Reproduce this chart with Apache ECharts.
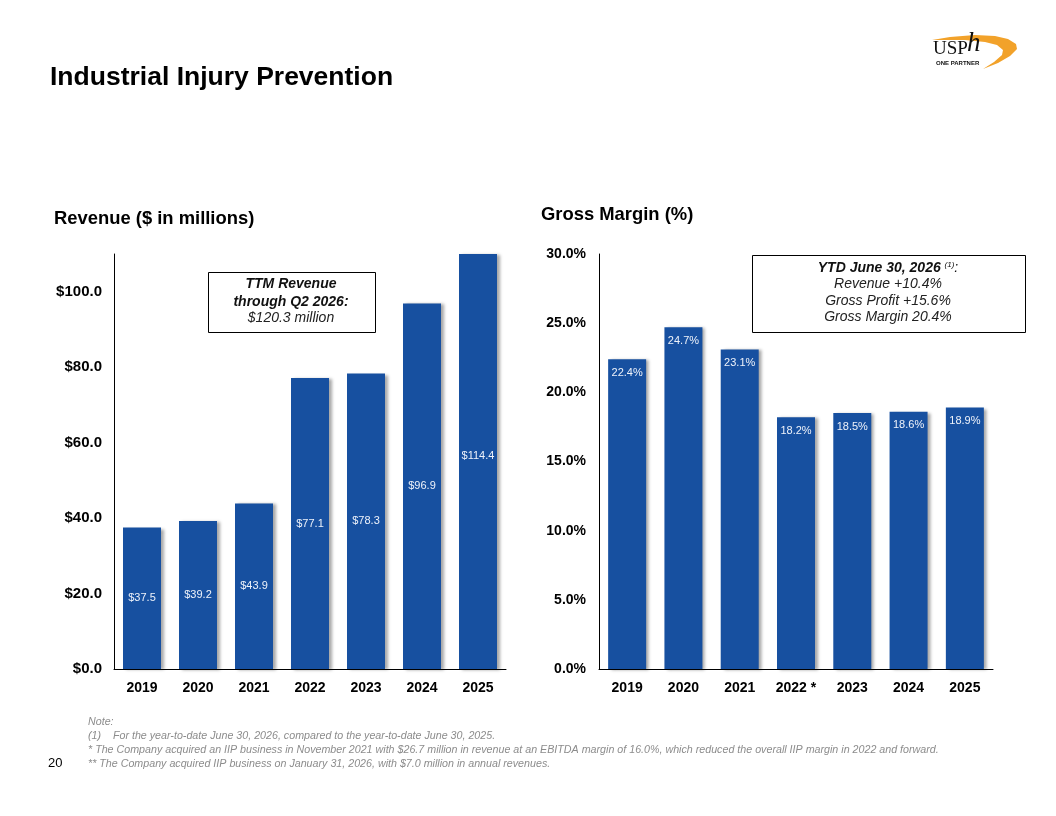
<!DOCTYPE html>
<html>
<head>
<meta charset="utf-8">
<script src="https://cdn.jsdelivr.net/npm/echarts@6/dist/echarts.min.js"></script>
<style>
  html, body { margin: 0; padding: 0; background: #fff; }
  #main { width: 1056px; height: 816px; }
</style>
</head>
<body>
<div id="main"></div>
<script>
var years = ['2019', '2020', '2021', '2022', '2023', '2024', '2025'];
var marginYears = ['2019', '2020', '2021', '2022 *', '2023', '2024', '2025'];
var revenue = [37.5, 39.2, 43.9, 77.1, 78.3, 96.9, 114.4];
var grossMargin = [22.4, 24.7, 23.1, 18.2, 18.5, 18.6, 18.9];
var notes = [
    'Note:',
    '(1)    For the year-to-date June 30, 2026, compared to the year-to-date June 30, 2025.',
    '* The Company acquired an IIP business in November 2021 with $26.7 million in revenue at an EBITDA margin of 16.0%, which reduced the overall IIP margin in 2022 and forward.',
    '** The Company acquired IIP business on January 31, 2026, with $7.0 million in annual revenues.'
];

var barBlue = '#1750a0';
var font = 'Arial, "Liberation Sans", sans-serif';
var serif = '"Liberation Serif", "DejaVu Serif", serif';

var chart = echarts.init(document.getElementById('main'));

var barStyle = {
    color: barBlue,
    shadowColor: 'rgba(0,0,0,0.35)',
    shadowBlur: 3,
    shadowOffsetX: 3,
    shadowOffsetY: 1
};

// the last revenue bar runs past the axis max, keep its label near the full bar centre
var revenueData = revenue.map(function (v, i) {
    if (i === revenue.length - 1) {
        return { value: v, label: { offset: [0, -6] } };
    }
    return v;
});

var axisLabelStyle = { color: '#000', fontWeight: 'bold', fontSize: 14, fontFamily: font };

function txt(x, y, text, f, fill, align) {
    return { type: 'text', x: x, y: y,
             style: { text: text, font: f, fill: fill || '#000', align: align || 'left', verticalAlign: 'top' } };
}

var option = {
    animation: false,
    textStyle: { fontFamily: font },
    grid: [
        { left: 114, top: 254, width: 392, height: 415 },
        { left: 599, top: 254, width: 394, height: 415 }
    ],
    xAxis: [{
        type: 'category', gridIndex: 0, data: years,
        axisLine: { lineStyle: { color: '#000', width: 1 } },
        axisTick: { show: false },
        axisLabel: Object.assign({ margin: 12 }, axisLabelStyle)
    }, {
        type: 'category', gridIndex: 1, data: marginYears,
        axisLine: { lineStyle: { color: '#000', width: 1 } },
        axisTick: { show: false },
        axisLabel: Object.assign({ margin: 12 }, axisLabelStyle)
    }],
    yAxis: [{
        type: 'value', gridIndex: 0, min: 0, max: 110, interval: 20,
        axisLine: { show: true, lineStyle: { color: '#000', width: 1 } },
        axisTick: { show: false },
        splitLine: { show: false },
        axisLabel: Object.assign({}, axisLabelStyle, {
            fontSize: 15,
            margin: 12,
            showMaxLabel: false,
            formatter: function (v) { return v > 100 ? '' : '$' + v.toFixed(1); }
        })
    }, {
        type: 'value', gridIndex: 1, min: 0, max: 30, interval: 5,
        axisLine: { show: true, lineStyle: { color: '#000', width: 1 } },
        axisTick: { show: false },
        splitLine: { show: false },
        axisLabel: Object.assign({}, axisLabelStyle, {
            margin: 13,
            formatter: function (v) { return v.toFixed(1) + '%'; }
        })
    }],
    series: [{
        type: 'bar', xAxisIndex: 0, yAxisIndex: 0,
        data: revenueData,
        barWidth: 38,
        clip: true,
        itemStyle: barStyle,
        label: {
            show: true, position: 'inside',
            color: '#eef2fa', fontSize: 11, fontFamily: font,
            formatter: function (p) { return '$' + p.value.toFixed(1); }
        }
    }, {
        type: 'bar', xAxisIndex: 1, yAxisIndex: 1,
        data: grossMargin,
        barWidth: 38,
        itemStyle: barStyle,
        label: {
            show: true, position: 'insideTop', distance: 8,
            color: '#eef2fa', fontSize: 11, fontFamily: font,
            formatter: function (p) { return p.value.toFixed(1) + '%'; }
        }
    }],
    graphic: [
        // page title and chart titles
        txt(50, 64, 'Industrial Injury Prevention', 'bold 26.5px ' + font),
        txt(54, 210, 'Revenue ($ in millions)', 'bold 18.4px ' + font),
        txt(541, 206, 'Gross Margin (%)', 'bold 18.4px ' + font),
        // TTM box
        { type: 'rect', shape: { x: 208.5, y: 272.5, width: 167, height: 60 },
          style: { fill: '#fff', stroke: '#000', lineWidth: 1 } },
        txt(291, 277, 'TTM Revenue', 'italic bold 14px ' + font, '#111', 'center'),
        txt(291, 295, 'through Q2 2026:', 'italic bold 14px ' + font, '#111', 'center'),
        txt(291, 311, '$120.3 million', 'italic 14px ' + font, '#222', 'center'),
        // YTD box
        { type: 'rect', shape: { x: 752.5, y: 255.5, width: 273, height: 77 },
          style: { fill: '#fff', stroke: '#000', lineWidth: 1 } },
        { type: 'text', x: 888, y: 261,
          style: {
              text: '{b|YTD June 30, 2026 }{s|(1)}{n|:}',
              align: 'center', verticalAlign: 'top',
              rich: {
                  b: { font: 'italic bold 14px ' + font, fill: '#111' },
                  s: { font: 'italic 8px ' + font, fill: '#111', verticalAlign: 'top' },
                  n: { font: 'italic 14px ' + font, fill: '#111' }
              }
          } },
        txt(888, 277, 'Revenue +10.4%', 'italic 14px ' + font, '#222', 'center'),
        txt(888, 294, 'Gross Profit +15.6%', 'italic 14px ' + font, '#222', 'center'),
        txt(888, 310, 'Gross Margin 20.4%', 'italic 14px ' + font, '#222', 'center'),
        // notes
        { type: 'text', x: 88, y: 715,
          style: { text: notes.join('\n'), font: 'italic 10.7px ' + font, fill: '#8c8c8c', lineHeight: 14, verticalAlign: 'top' } },
        // page number
        txt(48, 757, '20', '13px ' + font),
        // logo
        { type: 'polygon',
          shape: { points: [[932, 40], [950, 37], [975, 35], [995, 36], [1008, 39], [1016, 44], [1017, 49],
                            [1010, 56], [998, 63], [983, 69], [994, 62], [1002, 55], [1003, 50], [997, 45],
                            [985, 42], [965, 40], [945, 40]] },
          style: { fill: '#f2a22a' } },
        txt(933, 40, 'USP', '19px ' + serif, '#111'),
        txt(967, 30, 'h', 'italic 27px ' + serif, '#111'),
        txt(936, 60, 'ONE PARTNER', 'bold 6px ' + font, '#111')
    ]
};

chart.setOption(option);
</script>
</body>
</html>
